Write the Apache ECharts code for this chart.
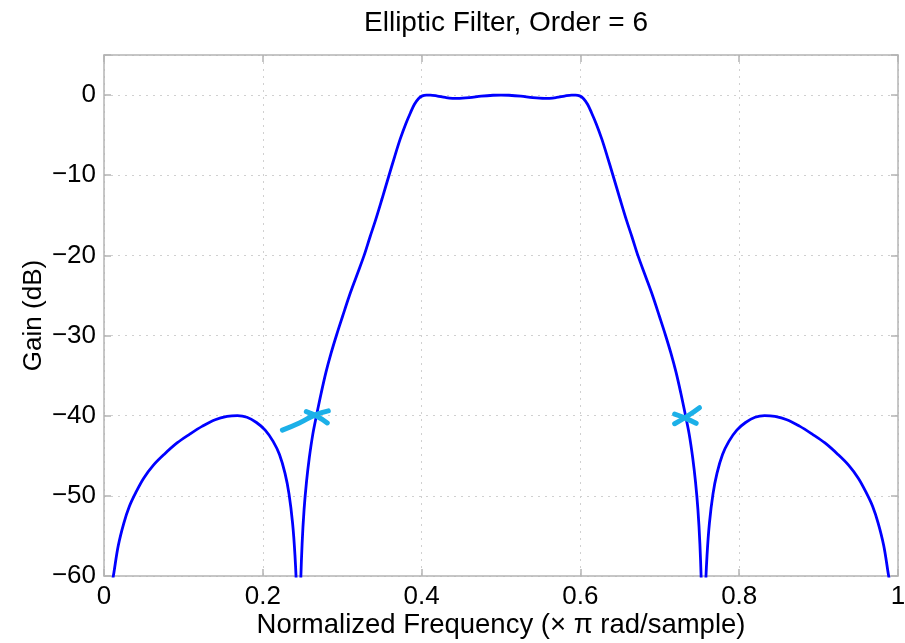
<!DOCTYPE html>
<html>
<head>
<meta charset="utf-8">
<title>Elliptic Filter, Order = 6</title>
<script src="https://cdn.jsdelivr.net/npm/echarts@6/dist/echarts.min.js"></script>
<style>
  html, body { margin: 0; padding: 0; background: #fff; }
  #chart { width: 905px; height: 643px; }
</style>
</head>
<body>
<div id="chart"></div>
<script>
// normalized frequency (x pi rad/sample)
const freq = [
  0.006, 0.01, 0.0126, 0.018, 0.025, 0.032, 0.04, 0.05, 0.062, 0.076, 0.092, 0.108, 0.124, 0.14, 0.155,
  0.168, 0.18, 0.192, 0.203, 0.213, 0.221, 0.228, 0.233, 0.2375, 0.2405, 0.2425, 0.2445, 0.2453,
  0.2462, 0.2475, 0.2495, 0.252, 0.255, 0.2585, 0.263, 0.268, 0.2735, 0.2795, 0.286, 0.293, 0.3005,
  0.3088, 0.318, 0.3276, 0.335, 0.342, 0.35, 0.359, 0.366, 0.373, 0.38, 0.386, 0.391, 0.396, 0.401,
  0.406, 0.411, 0.42, 0.43, 0.445, 0.46, 0.475, 0.49, 0.5,
  0.51, 0.525, 0.54, 0.555, 0.57, 0.58, 0.589, 0.594, 0.599, 0.604, 0.609, 0.614, 0.62, 0.627, 0.634,
  0.641, 0.65, 0.658, 0.665, 0.6724, 0.682, 0.6912, 0.6995, 0.707, 0.714, 0.7205, 0.7265, 0.732, 0.737,
  0.7415, 0.745, 0.748, 0.7505, 0.7525, 0.7538, 0.7547, 0.7555, 0.7575, 0.7595, 0.7625, 0.767, 0.772,
  0.779, 0.787, 0.797, 0.808, 0.82, 0.832, 0.845, 0.86, 0.876, 0.892, 0.908, 0.924, 0.938, 0.95, 0.96,
  0.968, 0.975, 0.982, 0.9874, 0.99, 0.994
];
// gain in dB
const gain = [
  -65.1, -61.2, -59.5, -56.2, -53.4, -51.3, -49.6, -47.8, -46.2, -44.8, -43.4, -42.3, -41.3, -40.5, -40.1,
  -40, -40.2, -40.85, -41.8, -43.2, -44.85, -47.2, -49.75, -53.4, -57.4, -61.9, -72.8, -90,
  -69.5, -61.7, -56, -51.7, -48.3, -45.3, -42.3, -39.8, -37.2, -34.6, -32.2, -29.9, -27.6,
  -25.1, -22.6, -20, -17.7, -15.6, -13, -10, -7.7, -5.5, -3.6, -2.2, -1.15, -0.45, -0.1,
  0, 0, -0.12, -0.3, -0.42, -0.33, -0.14, -0.02, 0,
  -0.02, -0.14, -0.33, -0.42, -0.3, -0.12, 0, 0, -0.1, -0.45, -1.15, -2.2, -3.6, -5.5, -7.7,
  -10, -13, -15.6, -17.7, -20, -22.6, -25.1, -27.6, -29.9, -32.2, -34.6, -37.2, -39.8, -42.3,
  -45.3, -48.3, -51.7, -56, -61.7, -69.5, -90, -72.8, -61.9, -57.4, -53.4, -49.75, -47.2,
  -44.85, -43.2, -41.8, -40.85, -40.2, -40, -40.1, -40.5, -41.3, -42.3, -43.4, -44.8, -46.2, -47.8, -49.6,
  -51.3, -53.4, -56.2, -59.5, -61.2, -65.1
];
// hand-drawn cyan marks near -40 dB
const markLeftA = [[0.2247, -41.8], [0.246, -40.9], [0.266, -39.9], [0.2825, -39.4]];
const markLeftB = [[0.2548, -39.5], [0.2686, -40.1], [0.2812, -40.9]];
const markRightA = [[0.7187, -41.0], [0.734, -40.1], [0.75, -39.0]];
const markRightB = [[0.7187, -39.8], [0.732, -40.3], [0.7458, -40.95]];

const yTicks = [-60, -50, -40, -30, -20, -10, 0];

const FONT = '"Liberation Sans", Arial, Helvetica, sans-serif';
const chart = echarts.init(document.getElementById('chart'));

const frame = '#b4b4b4';
const fmtY = v => (yTicks.indexOf(v) < 0 ? '' : (v < 0 ? '\u2212' + (-v) : String(v)));

function markSeries(data) {
  return {
    type: 'line',
    data: data,
    smooth: true,
    symbol: 'none',
    lineStyle: { color: '#1cb0e8', width: 5, cap: 'round', join: 'round' },
    z: 5
  };
}

chart.setOption({
  animation: false,
  backgroundColor: '#fff',
  title: {
    text: 'Elliptic Filter, Order = 6',
    left: 501,
    top: 4,
    textAlign: 'center',
    textStyle: { fontFamily: FONT, fontSize: 28, fontWeight: 'normal', color: '#000' }
  },
  grid: { left: 104, right: 7, top: 55, bottom: 67, containLabel: false, outerBoundsMode: 'none' },
  xAxis: [
    {
      type: 'value', min: 0, max: 1, interval: 0.2,
      name: 'Normalized Frequency (\u00d7 \u03c0 rad/sample)',
      nameLocation: 'middle', nameGap: 35, nameMoveOverlap: false,
      nameTextStyle: { fontFamily: FONT, fontSize: 27.5, color: '#000' },
      axisLine: { onZero: false, lineStyle: { color: frame, width: 1.5 } },
      axisTick: { inside: true, length: 7, lineStyle: { color: frame, width: 1.5 } },
      axisLabel: { fontFamily: FONT, fontSize: 26, color: '#000', margin: 8 },
      splitLine: { show: true, lineStyle: { color: '#d0d0d0', type: [2, 5], width: 1 } }
    },
    {
      type: 'value', min: 0, max: 1, interval: 0.2, position: 'top',
      axisLine: { onZero: false, lineStyle: { color: frame, width: 1.5 } },
      axisTick: { inside: true, length: 7, lineStyle: { color: frame, width: 1.5 } },
      axisLabel: { show: false },
      splitLine: { show: false }
    }
  ],
  yAxis: [
    {
      type: 'value', min: -60, max: 5, interval: 10,
      name: 'Gain (dB)',
      nameLocation: 'middle', nameGap: 57, nameMoveOverlap: false,
      nameTextStyle: { fontFamily: FONT, fontSize: 26, color: '#000' },
      axisLine: { show: true, onZero: false, lineStyle: { color: frame, width: 1.5 } },
      axisTick: { show: true, inside: true, length: 7, lineStyle: { color: frame, width: 1.5 } },
      axisLabel: { fontFamily: FONT, fontSize: 26, color: '#000', margin: 8, formatter: fmtY },
      splitLine: { show: true, lineStyle: { color: '#d0d0d0', type: [2, 5], width: 1 } }
    },
    {
      type: 'value', min: -60, max: 5, interval: 10, position: 'right',
      axisLine: { show: true, onZero: false, lineStyle: { color: frame, width: 1.5 } },
      axisTick: { show: true, inside: true, length: 7, lineStyle: { color: frame, width: 1.5 } },
      axisLabel: { show: false },
      splitLine: { show: false }
    }
  ],
  series: [
    {
      type: 'line',
      data: freq.map((f, i) => [f, gain[i]]),
      smooth: 0.35,
      symbol: 'none',
      clip: true,
      lineStyle: { color: '#0000ff', width: 2.8 },
      z: 3
    },
    markSeries(markLeftA),
    markSeries(markLeftB),
    markSeries(markRightA),
    markSeries(markRightB)
  ]
});
</script>
</body>
</html>
